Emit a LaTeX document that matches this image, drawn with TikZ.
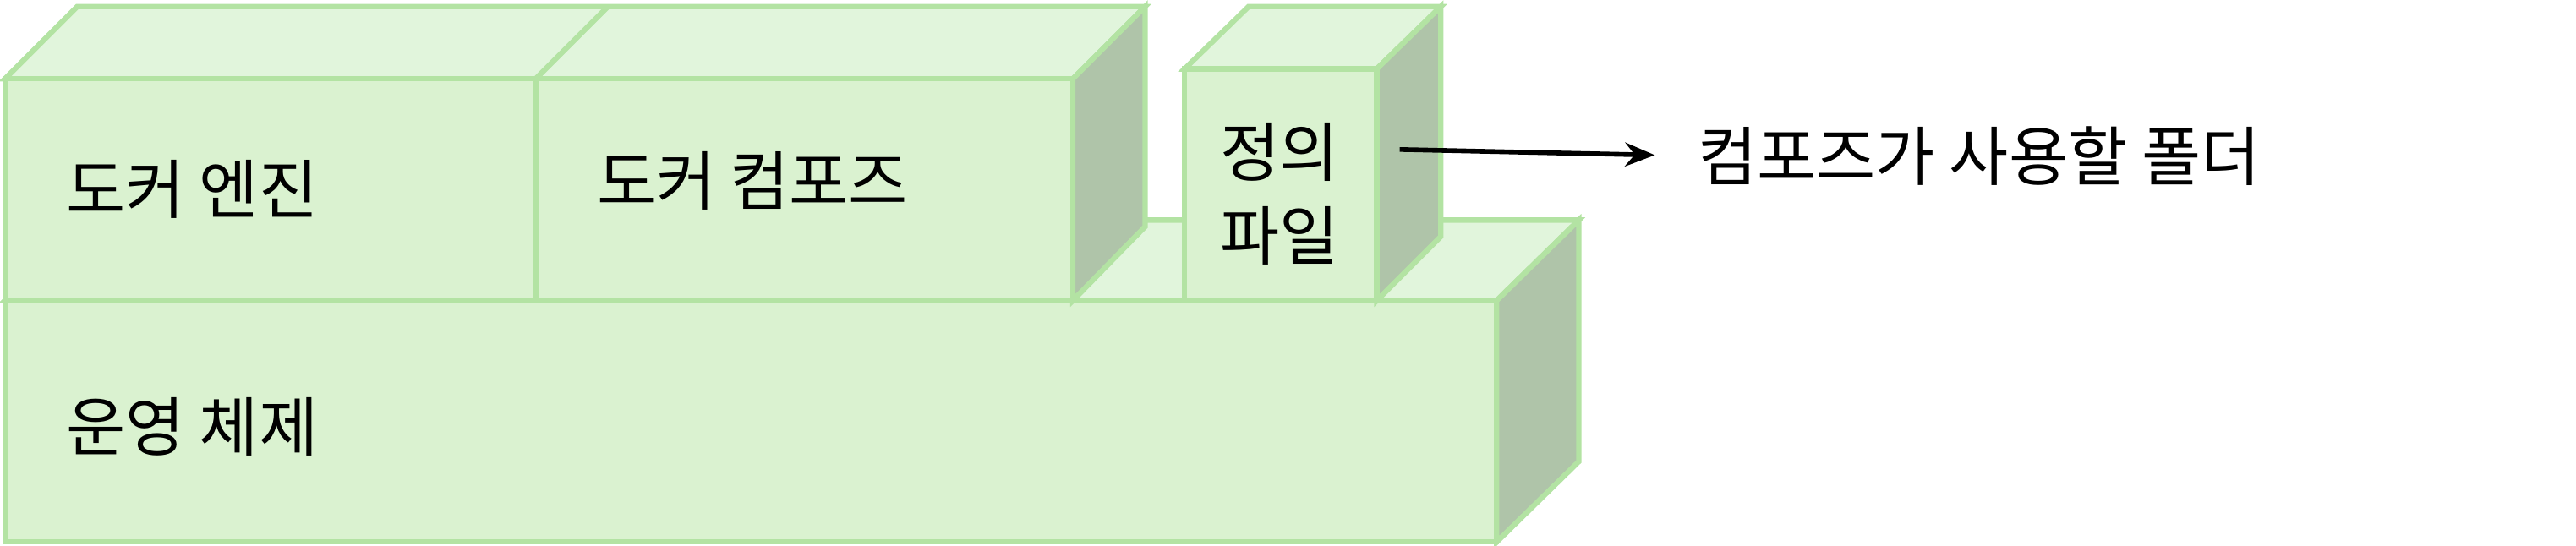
\documentclass[tikz,border=0pt]{standalone}
\usepackage{fontspec}
\setmainfont{Noto Sans CJK KR}
\usetikzlibrary{arrows.meta}

\definecolor{frontgreen}{HTML}{DAF2D0}
\definecolor{topgreen}{HTML}{E1F5DC}
\definecolor{sidegreen}{HTML}{AFC4A9}
\definecolor{edgegreen}{HTML}{B3E3A3}

\tikzset{
  facefront/.style={fill=frontgreen, draw=edgegreen, line width=1.8pt},
  facetop/.style={fill=topgreen, draw=edgegreen, line width=1.8pt},
  faceside/.style={fill=sidegreen, draw=edgegreen, line width=1.8pt},
  label/.style={font=\fontsize{21.7pt}{28pt}\selectfont, inner sep=0pt}
}

\begin{document}
\begin{tikzpicture}[x=0.01943cm, y=-0.01943cm, line join=miter]

  \useasboundingbox (0,0) rectangle (1568,332);

  % Besturingssysteem (onderste blok)
  \draw[facetop]  (3,183) -- (52,134) -- (961,134) -- (911,183) -- cycle;
  \draw[faceside] (911,183) -- (961,134) -- (961,281) -- (911,330) -- cycle;
  \draw[facefront] (3,183) rectangle (911,330);

  % Engine en compose (bovenste blok)
  \draw[facetop]  (3,48) -- (47,4) -- (697,4) -- (653,48) -- cycle;
  \draw[facetop]  (326,48) -- (370,4);
  \draw[faceside] (653,48) -- (697,4) -- (697,138) -- (653,183) -- cycle;
  \draw[facefront] (3,48) rectangle (326,183);
  \draw[facefront] (326,48) rectangle (653,183);

  % Definitiebestand
  \draw[facetop]  (721,42) -- (760,4) -- (877,4) -- (838,42) -- cycle;
  \draw[faceside] (838,42) -- (877,4) -- (877,144) -- (838,183) -- cycle;
  \draw[facefront] (721,42) rectangle (838,183);

  % Teksten
  \node[label, anchor=west] (engine)  at (40,115)  {도커 엔진};
  \node[label, anchor=west] (compose) at (363,110) {도커 컴포즈};
  \node[label, anchor=west] (os)      at (40,260)  {운영 체제};
  \node[label, align=center] (deffile) at (779,118) {정의\\파일};
  \node[label, anchor=west] (folder)  at (1033,95) {컴포즈가 사용할 폴더};

  % Pijl naar de map
  \coordinate (arrowstart) at (852,91);
  \draw[-{Stealth[length=10pt, width=8pt]}, line width=1.6pt, shorten >=0.5cm]
    (arrowstart) -- (folder.west);

\end{tikzpicture}
\end{document}
